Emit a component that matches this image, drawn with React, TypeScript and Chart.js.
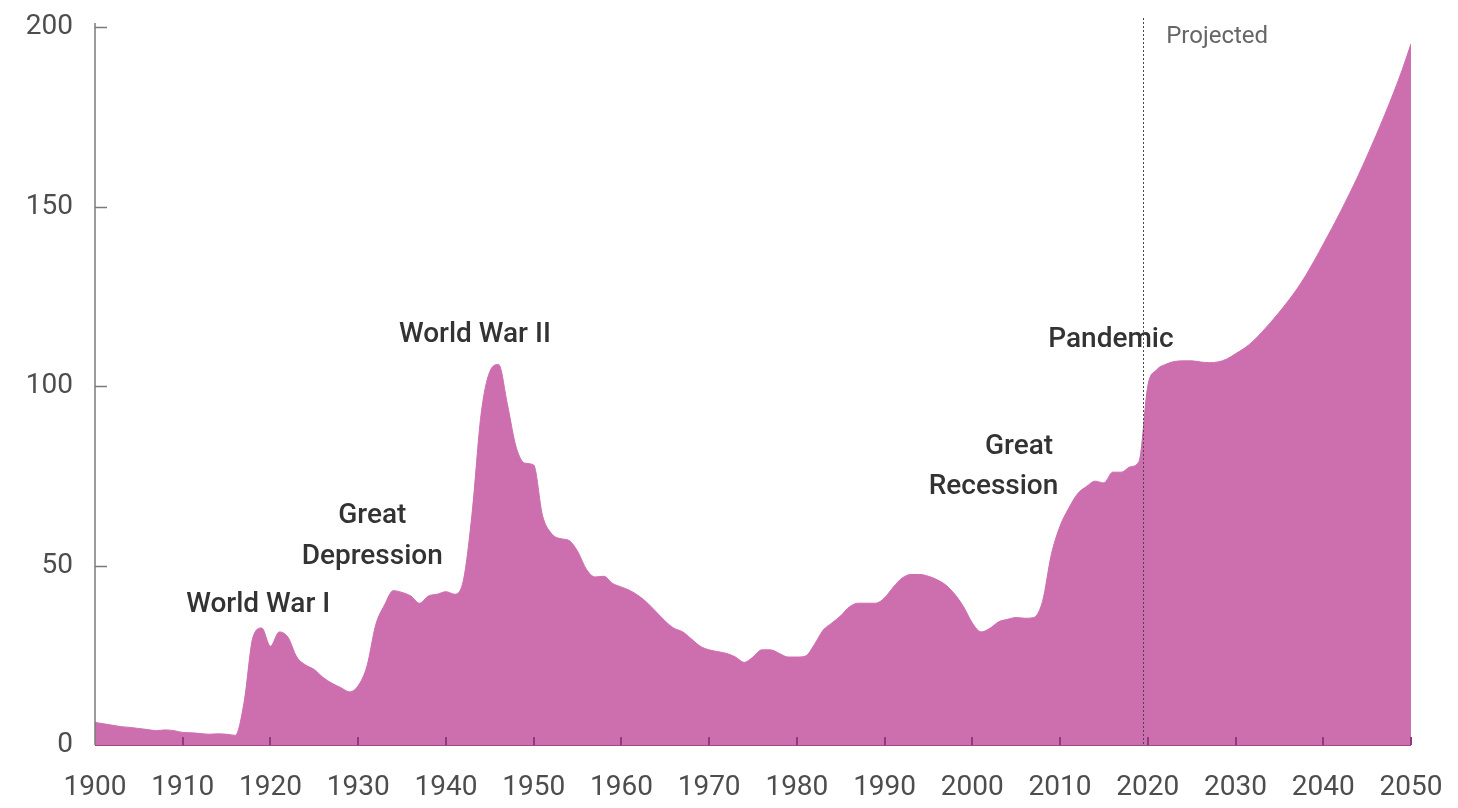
import React, { useEffect, useRef } from "react";
import { Chart, registerables } from "chart.js";

Chart.register(...registerables);

const years: number[] = [];
for (let y = 1900; y <= 2050; y++) years.push(y);

// Debt held by the public, % of GDP
const debt1900s = [6.3, 5.9, 5.5, 5.1, 4.9, 4.6, 4.3, 4.0, 4.2, 4.0];
const debt1910s = [3.5, 3.4, 3.2, 3.0, 3.1, 3.0, 2.7, 12.0, 30.0, 32.6];
const debt1920s = [27.5, 31.5, 30.0, 24.5, 22.3, 21.0, 18.8, 17.2, 16.0, 14.8];
const debt1930s = [16.5, 22.0, 33.5, 39.0, 43.0, 42.5, 41.5, 39.5, 41.5, 42.0];
const debt1940s = [42.7, 42.0, 46.0, 65.0, 92.0, 104.0, 106.0, 95.0, 83.0, 78.5];
const debt1950s = [78.0, 64.0, 59.0, 57.5, 57.0, 54.0, 49.0, 46.8, 47.0, 45.0];
const debt1960s = [44.0, 43.0, 41.5, 39.5, 37.0, 34.5, 32.5, 31.5, 29.5, 27.5];
const debt1970s = [26.5, 26.0, 25.5, 24.5, 23.0, 24.5, 26.5, 26.5, 25.5, 24.5];
const debt1980s = [24.5, 24.8, 28.0, 32.0, 34.0, 36.0, 38.5, 39.5, 39.5, 39.5];
const debt1990s = [41.0, 44.0, 46.5, 47.5, 47.5, 47.0, 46.0, 44.5, 42.0, 38.5];
const debt2000s = [34.0, 31.5, 32.5, 34.3, 35.0, 35.5, 35.3, 35.5, 40.0, 53.0];
const debt2010s = [61.0, 66.0, 70.0, 72.0, 73.5, 73.0, 76.0, 76.0, 77.5, 79.0];
const debt2020s = [100.0, 104.5, 106.0, 106.8, 107.0, 107.0, 106.7, 106.5, 106.7, 107.5];
const debt2030s = [109.0, 110.5, 112.5, 115.0, 117.7, 120.6, 123.7, 127.0, 130.8, 135.0];
const debt2040s = [139.5, 144.0, 148.7, 153.6, 158.7, 164.1, 169.7, 175.5, 181.6, 188.1];
const debt2050 = [195.3];

const debt: number[] = [
  ...debt1900s, ...debt1910s, ...debt1920s, ...debt1930s, ...debt1940s,
  ...debt1950s, ...debt1960s, ...debt1970s, ...debt1980s, ...debt1990s,
  ...debt2000s, ...debt2010s, ...debt2020s, ...debt2030s, ...debt2040s, ...debt2050,
];

const yTicks = [0, 50, 100, 150, 200];
const xTicks = [1900, 1910, 1920, 1930, 1940, 1950, 1960, 1970, 1980, 1990, 2000, 2010, 2020, 2030, 2040, 2050];
const projectionStart = 2019.5;

// annotation labels: text, year, value, alignment
const annotationTexts = ["World War I", "Great", "Depression", "World War II", "Great", "Recession", "Pandemic"];
const annotationYears = [1918.6, 1931.6, 1931.6, 1943.3, 2009.2, 2009.8, 2015.8];
const annotationValues = [39, 63.8, 52.4, 114.2, 83, 71.9, 112.8];
const annotationAligns: CanvasTextAlign[] = ["center", "center", "center", "center", "right", "right", "center"];
const projectedLabel = { text: "Projected", year: 2022.1, value: 197.2 };

const FILL = "#CD6EAF";

const overlayPlugin = {
  id: "overlay",
  afterDatasetsDraw(chart: any) {
    const { ctx, chartArea, scales } = chart;
    const xs = scales.x;
    const ys = scales.y;
    ctx.save();

    // x ticks (inside, dark purple)
    ctx.strokeStyle = "#8E3C7C";
    ctx.lineWidth = 2;
    xTicks.forEach((t) => {
      if (t === 1900) return;
      const px = Math.round(xs.getPixelForValue(t));
      ctx.beginPath();
      ctx.moveTo(px, chartArea.bottom);
      ctx.lineTo(px, chartArea.bottom - 8);
      ctx.stroke();
    });
    // baseline
    ctx.strokeStyle = "#9A4A88";
    ctx.lineWidth = 1;
    ctx.beginPath();
    ctx.moveTo(chartArea.left, chartArea.bottom + 0.5);
    ctx.lineTo(chartArea.right, chartArea.bottom + 0.5);
    ctx.stroke();

    // y axis line and ticks
    ctx.strokeStyle = "#7A7A7A";
    ctx.lineWidth = 1.5;
    ctx.beginPath();
    ctx.moveTo(chartArea.left, chartArea.top - 4);
    ctx.lineTo(chartArea.left, chartArea.bottom);
    ctx.stroke();
    yTicks.forEach((t) => {
      if (t === 0) return;
      const py = Math.round(ys.getPixelForValue(t)) + 0.5;
      ctx.beginPath();
      ctx.moveTo(chartArea.left, py);
      ctx.lineTo(chartArea.left + 12, py);
      ctx.stroke();
    });

    // dotted projection line
    const dx = Math.round(xs.getPixelForValue(projectionStart)) + 0.5;
    ctx.strokeStyle = "#4A4A4A";
    ctx.lineWidth = 1;
    ctx.setLineDash([2, 2]);
    ctx.beginPath();
    ctx.moveTo(dx, chartArea.top - 9);
    ctx.lineTo(dx, chartArea.bottom);
    ctx.stroke();
    ctx.setLineDash([]);

    // annotations
    ctx.fillStyle = "#333333";
    ctx.font = "500 28px Roboto";
    ctx.textBaseline = "middle";
    annotationTexts.forEach((txt, i) => {
      ctx.textAlign = annotationAligns[i];
      ctx.fillText(txt, xs.getPixelForValue(annotationYears[i]), ys.getPixelForValue(annotationValues[i]));
    });
    ctx.fillStyle = "#666666";
    ctx.font = "24px Roboto";
    ctx.textAlign = "left";
    ctx.fillText(projectedLabel.text, xs.getPixelForValue(projectedLabel.year), ys.getPixelForValue(projectedLabel.value));

    ctx.restore();
  },
};

export default function App() {
  const canvasRef = useRef<HTMLCanvasElement | null>(null);

  useEffect(() => {
    if (!canvasRef.current) return;
    const chart = new Chart(canvasRef.current, {
      type: "line",
      data: {
        datasets: [
          {
            data: years.map((y, i) => ({ x: y, y: debt[i] })),
            fill: "origin",
            backgroundColor: FILL,
            borderColor: FILL,
            borderWidth: 1,
            pointRadius: 0,
            cubicInterpolationMode: "monotone",
          },
        ],
      },
      options: {
        animation: false,
        responsive: false,
        maintainAspectRatio: false,
        layout: { padding: { top: 27, right: 47, left: 0, bottom: 0 } },
        plugins: { legend: { display: false }, tooltip: { enabled: false } },
        scales: {
          x: {
            type: "linear",
            min: 1900,
            max: 2050,
            afterFit: (scale: any) => {
              scale.height = 63;
              scale.paddingLeft = 0;
              scale.paddingRight = 0;
            },
            afterBuildTicks: (scale: any) => {
              scale.ticks = xTicks.map((v) => ({ value: v }));
            },
            grid: { display: false, drawTicks: false },
            border: { display: false },
            ticks: {
              padding: 26,
              color: "#4d4d4d",
              font: { family: "Roboto", size: 28 },
              maxRotation: 0,
              autoSkip: false,
              callback: (v: any) => String(v),
            },
          },
          y: {
            min: 0,
            max: 200,
            afterFit: (scale: any) => {
              scale.width = 95;
              scale.paddingTop = 0;
              scale.paddingBottom = 0;
            },
            afterBuildTicks: (scale: any) => {
              scale.ticks = yTicks.map((v) => ({ value: v }));
            },
            grid: { display: false, drawTicks: false },
            border: { display: false },
            ticks: {
              padding: 22,
              color: "#4d4d4d",
              font: { family: "Roboto", size: 28 },
              callback: (v: any) => String(v),
            },
          },
        },
      },
      plugins: [overlayPlugin],
    });
    return () => chart.destroy();
  }, []);

  return (
    <div style={{ position: "fixed", left: 0, top: 0, width: 1458, height: 808, background: "#fff" }}>
      <canvas ref={canvasRef} width={1458} height={808} style={{ display: "block" }} />
    </div>
  );
}
